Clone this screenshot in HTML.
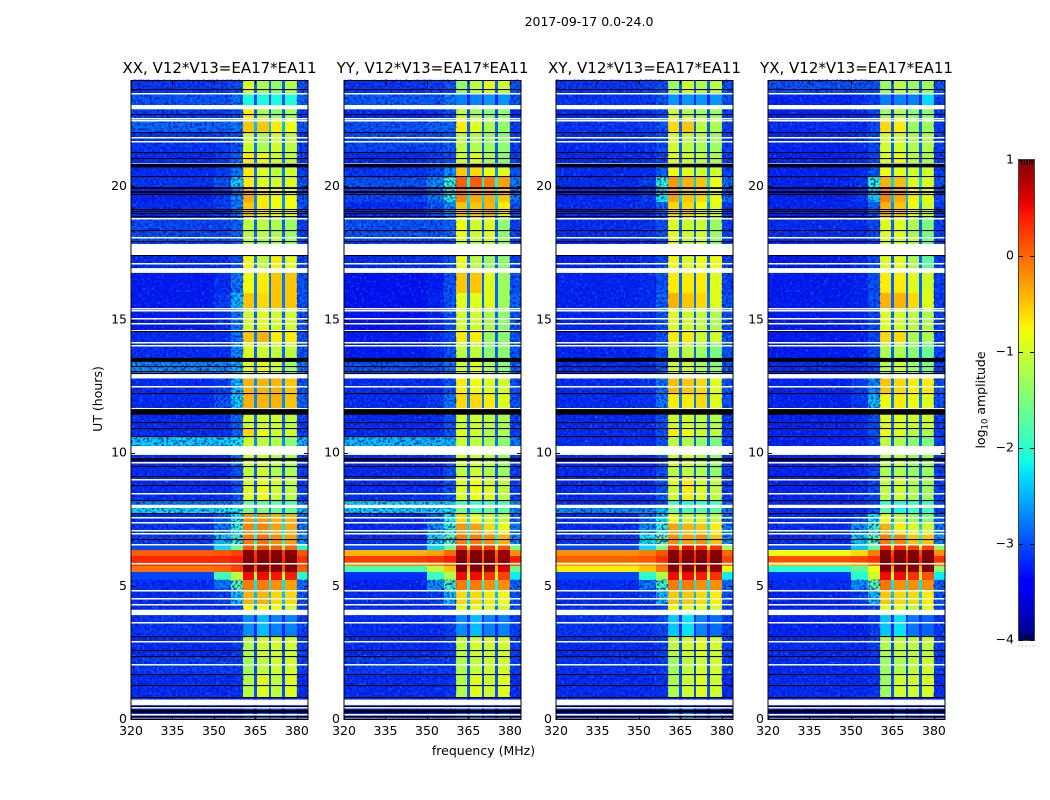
<!DOCTYPE html>
<html>
<head>
<meta charset="utf-8">
<title>2017-09-17 0.0-24.0</title>
<style>
html,body{margin:0;padding:0;background:#fff;width:1050px;height:800px;overflow:hidden}
svg{display:block}
text{font-family:"DejaVu Sans","Liberation Sans",sans-serif;fill:#000}
</style>
</head>
<body>
<svg id="figure" width="1050" height="800" viewBox="0 0 1050 800" xmlns="http://www.w3.org/2000/svg">
  <defs>
    <filter id="speckleLight" x="0" y="0" width="100%" height="100%" color-interpolation-filters="sRGB">
      <feTurbulence type="fractalNoise" baseFrequency="0.42" numOctaves="1" seed="4"/>
      <feColorMatrix type="matrix" values="0 0 0 0 0  0 0 0 0 0.72  0 0 0 0 1  3.4 0 0 0 -1.95"/>
    </filter>
    <filter id="speckleDark" x="0" y="0" width="100%" height="100%" color-interpolation-filters="sRGB">
      <feTurbulence type="fractalNoise" baseFrequency="0.42" numOctaves="1" seed="11"/>
      <feColorMatrix type="matrix" values="0 0 0 0 0  0 0 0 0 0.05  0 0 0 0 0.68  0 4 0 0 -1.75"/>
    </filter>
  </defs>
  <text x="589" y="26" font-size="12.5" text-anchor="middle">2017-09-17 0.0-24.0</text>
  <text x="483.5" y="755" font-size="12.5" text-anchor="middle">frequency (MHz)</text>
  <text x="0" y="0" font-size="12.5" text-anchor="middle" transform="translate(102,399) rotate(-90)">UT (hours)</text>
  <text x="0" y="0" font-size="12.5" text-anchor="middle" transform="translate(985,400) rotate(-90)">log<tspan font-size="8.5" dy="2.5">10</tspan><tspan dy="-2.5"> amplitude</tspan></text>
  <g id="panels"></g>
  <g id="colorbar"></g>
</svg>
<script>
// Axis data
const panelTitles = ["XX, V12*V13=EA17*EA11", "YY, V12*V13=EA17*EA11", "XY, V12*V13=EA17*EA11", "YX, V12*V13=EA17*EA11"];
const freqTicks = [320, 335, 350, 365, 380];
const utTicks = [0, 5, 10, 15, 20];
const colorbarTicks = [1, 0, -1, -2, -3, -4];
const colorbarTickLabels = ["1", "0", "\u22121", "\u22122", "\u22123", "\u22124"];

// Frequency bin edges (MHz): wide background, taper, then four sub-bands split by gaps
const freqEdges = [320, 350, 356, 360.6, 364.6, 365.6, 369.8, 370.8, 374.7, 375.7, 380, 384];
// Which level in a row feeds each frequency bin
// row = [background, mid, taper, s1, s2, s3, s4, gap, right]
const freqBinSource = [0, 1, 2, 3, 7, 4, 7, 5, 7, 6, 8];
const gapColumn = 7;
const gapShift = -0.45;
// Faint cells read slightly low against the speckle texture drawn over them
const faintThreshold = -2.5;
const faintShift = -0.14;

// Time bin edges (UT hours), top to bottom
const utEdges = [24.0,23.50,23.05,22.56,22.03,21.30,20.85,20.40,19.97,19.40,18.85,18.09,17.42,16.93,16.0,15.43,14.60,14.15,13.56,12.97,12.26,11.43,10.93,10.64,10.22,9.49,9.12,8.78,8.24,7.93,7.75,7.39,6.98,6.57,6.36,6.13,5.90,5.75,5.53,5.23,4.86,4.34,3.91,3.13,2.36,1.69,0.83,0.49,0];

// log10 amplitude, one row per time bin
const levelsXX = [
[-2.95,-2.9,-2.8,-0.95,-1.2,-1.4,-1.2,-2.3,-2.8],
[-2.8,-2.8,-2.6,-2.1,-2.1,-2.1,-2.1,-2.4,-2.7],
[-2.9,-2.9,-2.8,-0.7,-1.2,-1.4,-1.3,-2.3,-2.9],
[-2.7,-2.7,-2.6,-0.5,-0.5,-0.7,-0.8,-2.0,-2.8],
[-2.95,-2.9,-2.8,-1.0,-1.2,-1.0,-1.1,-2.2,-2.9],
[-3.0,-2.9,-2.7,-0.7,-0.8,-1.0,-1.1,-2.2,-2.9],
[-3.0,-2.9,-2.6,-0.7,-0.9,-1.1,-1.0,-2.2,-2.9],
[-2.95,-2.8,-2.3,-0.7,-0.9,-1.0,-0.9,-2.2,-2.8],
[-3.05,-2.9,-2.5,-0.35,-0.7,-0.8,-0.8,-2.1,-2.8],
[-3.0,-2.9,-2.6,-0.5,-0.7,-0.8,-0.8,-2.1,-2.8],
[-2.85,-2.85,-2.7,-1.1,-1.1,-1.2,-1.3,-2.3,-2.9],
[-2.8,-2.8,-2.7,-1.1,-1.3,-1.1,-1.3,-2.3,-2.9],
[-3.0,-3.0,-2.8,-0.8,-1.1,-0.7,-0.9,-2.2,-2.9],
[-3.1,-3.0,-2.6,-0.8,-0.7,-0.5,-0.5,-2.2,-2.8],
[-3.1,-2.9,-2.4,-0.5,-0.6,-0.5,-0.5,-2.2,-2.8],
[-3.1,-3.0,-2.6,-1.0,-0.9,-1.0,-1.0,-2.3,-2.8],
[-3.0,-3.0,-2.6,-0.5,-0.4,-0.7,-0.7,-2.2,-2.8],
[-3.0,-3.0,-2.5,-0.9,-1.0,-1.1,-1.1,-2.3,-2.8],
[-2.5,-2.5,-2.4,-0.9,-0.8,-1.0,-1.3,-2.2,-2.6],
[-3.0,-2.9,-2.4,-0.4,-0.4,-0.4,-0.5,-2.1,-2.8],
[-3.0,-2.8,-2.3,-0.4,-0.4,-0.4,-0.5,-2.1,-2.7],
[-3.0,-3.0,-2.7,-1.0,-1.0,-1.0,-1.1,-2.3,-2.9],
[-3.0,-3.0,-2.7,-0.6,-0.8,-1.0,-1.0,-2.2,-2.9],
[-2.3,-2.3,-2.2,-1.0,-1.1,-1.2,-1.4,-2.1,-2.4],
[-3.0,-3.0,-2.6,-1.0,-1.0,-1.1,-1.2,-2.3,-2.9],
[-3.0,-3.0,-2.8,-1.1,-1.0,-1.2,-1.2,-2.3,-2.9],
[-3.0,-3.0,-2.8,-1.0,-0.9,-1.0,-1.1,-2.3,-2.9],
[-3.0,-3.0,-2.8,-0.9,-0.8,-1.0,-1.1,-2.3,-2.9],
[-2.6,-2.6,-2.5,-1.6,-1.6,-1.7,-1.7,-2.2,-2.7],
[-2.25,-2.2,-2.1,-1.5,-1.5,-1.6,-1.6,-2.1,-2.4],
[-3.0,-2.7,-2.1,-0.25,-0.25,-0.4,-0.4,-1.9,-2.7],
[-2.95,-2.6,-2.0,-0.15,-0.15,-0.3,-0.35,-1.8,-2.6],
[-2.9,-2.4,-1.9,-0.1,-0.05,-0.2,-0.3,-1.6,-2.5],
[-2.9,-2.3,-1.6,0.1,0.15,0.05,0.0,-1.0,-2.0],
[0.05,0.1,0.2,1,1,1,1,0.7,0.1],
[0.35,0.35,0.4,1,1,1,1,0.8,0.3],
[0.25,0.25,0.35,1,1,1,1,0.7,0.2],
[-0.05,0.0,0.2,1,1,1,1,0.5,0.05],
[-2.9,-1.9,-1.1,0.5,0.5,0.45,0.4,-0.8,-2.0],
[-3.0,-2.6,-1.7,-0.1,-0.1,-0.2,-0.3,-1.8,-2.7],
[-3.0,-2.9,-2.4,-0.4,-0.4,-0.6,-0.6,-2.0,-2.8],
[-3.0,-3.0,-2.9,-0.8,-0.8,-0.8,-1.0,-2.2,-2.9],
[-2.95,-2.95,-2.9,-2.55,-2.45,-2.6,-2.6,-2.6,-2.9],
[-3.0,-3.0,-2.9,-1.2,-1.0,-1.0,-1.0,-2.4,-2.9],
[-2.9,-2.9,-2.9,-1.3,-1.1,-1.0,-1.0,-2.4,-2.9],
[-3.0,-3.0,-2.95,-1.15,-0.9,-1.1,-0.9,-2.4,-3.0],
[-3.0,-3.0,-3.0,-3.0,-3.0,-3.0,-3.0,-3.0,-3.0],
[-3.0,-3.0,-3.0,-2.8,-2.7,-2.8,-2.8,-3.0,-3.0]
];
const levelsYY = [
[-2.95,-2.9,-2.8,-1.4,-1.1,-0.85,-1.0,-2.3,-2.8],
[-2.75,-2.8,-2.6,-2.6,-2.6,-2.5,-2.5,-2.6,-2.8],
[-3.0,-2.95,-2.8,-1.1,-1.3,-1.4,-1.4,-2.4,-3.0],
[-2.8,-2.7,-2.7,-0.7,-0.9,-1.2,-1.35,-2.3,-2.9],
[-2.85,-2.85,-2.75,-1.1,-1.2,-1.3,-1.4,-2.3,-2.9],
[-3.0,-2.9,-2.8,-1.0,-0.9,-1.2,-1.4,-2.3,-2.9],
[-2.95,-2.85,-2.5,-0.5,-0.6,-0.8,-0.9,-2.1,-2.8],
[-2.8,-2.5,-1.9,0.05,0.05,-0.1,-0.3,-1.7,-2.6],
[-2.85,-2.6,-2.0,-0.15,-0.35,-0.35,-0.5,-1.8,-2.6],
[-3.0,-2.8,-2.5,-0.5,-0.5,-0.4,-0.7,-2.0,-2.8],
[-2.8,-2.8,-2.7,-0.8,-1.0,-0.9,-1.4,-2.3,-2.9],
[-2.85,-2.85,-2.8,-1.0,-1.1,-1.0,-1.3,-2.3,-2.9],
[-3.0,-3.0,-2.8,-0.8,-1.1,-1.3,-1.4,-2.3,-2.9],
[-3.15,-3.1,-2.8,-0.5,-0.5,-0.9,-1.3,-2.3,-2.8],
[-3.15,-3.05,-2.8,-0.9,-0.9,-0.9,-1.3,-2.3,-2.7],
[-3.15,-3.05,-2.8,-1.0,-1.0,-1.2,-1.4,-2.3,-2.8],
[-3.1,-3.0,-2.8,-0.7,-0.7,-1.3,-1.4,-2.3,-2.8],
[-3.1,-3.0,-2.8,-1.1,-1.1,-1.4,-1.4,-2.3,-2.8],
[-2.8,-2.8,-2.6,-1.0,-0.9,-1.2,-1.4,-2.3,-2.7],
[-3.0,-3.0,-2.8,-0.7,-0.8,-0.9,-1.0,-2.2,-2.8],
[-3.0,-2.9,-2.6,-0.6,-0.6,-0.7,-0.9,-2.2,-2.8],
[-3.0,-3.0,-2.8,-1.0,-1.0,-1.1,-1.2,-2.3,-2.9],
[-3.0,-3.0,-2.8,-0.9,-1.0,-1.2,-1.2,-2.3,-2.9],
[-2.4,-2.4,-2.4,-1.0,-1.1,-1.2,-1.4,-2.2,-2.6],
[-3.0,-3.0,-2.8,-1.0,-1.0,-1.1,-1.3,-2.3,-2.9],
[-3.0,-3.0,-2.8,-1.1,-1.0,-1.2,-1.3,-2.3,-2.9],
[-3.0,-3.0,-2.8,-0.9,-0.8,-1.0,-1.1,-2.3,-2.9],
[-3.0,-3.0,-2.8,-0.9,-0.8,-0.9,-1.1,-2.3,-2.9],
[-2.3,-2.3,-2.3,-1.8,-1.9,-1.8,-1.8,-2.2,-2.5],
[-2.3,-2.3,-2.2,-1.5,-1.8,-1.6,-1.7,-2.2,-2.5],
[-3.0,-2.7,-2.1,-0.6,-0.8,-1.0,-1.1,-1.9,-2.7],
[-3.0,-2.5,-2.0,-0.25,-0.3,-0.6,-0.8,-1.8,-2.6],
[-3.0,-2.3,-1.8,-0.1,-0.1,-0.2,-0.4,-1.7,-2.5],
[-2.9,-2.3,-1.6,0.3,0.3,0.25,0.1,-0.6,-1.5],
[-0.4,-0.3,0.0,1,1,1,0.9,0.5,-0.2],
[0.25,0.3,0.4,1,1,1,0.9,0.6,0.4],
[-0.2,-0.1,0.1,1,1,1,0.9,0.5,0.1],
[-1.8,-1.1,-0.5,1,1,1,0.6,0.0,-1.6],
[-3.0,-1.9,-1.2,0.5,0.5,0.3,0.2,-0.6,-2.2],
[-3.05,-2.5,-1.8,-0.1,-0.1,-0.2,-0.2,-1.7,-2.7],
[-3.0,-2.9,-2.4,-0.6,-0.6,-0.7,-0.8,-2.0,-2.8],
[-3.0,-3.0,-2.9,-0.9,-0.9,-0.9,-1.0,-2.2,-2.9],
[-3.0,-3.0,-2.9,-2.55,-2.45,-2.6,-2.6,-2.6,-2.9],
[-3.0,-3.0,-2.9,-1.1,-1.0,-1.0,-1.0,-2.4,-2.9],
[-2.9,-2.9,-2.9,-1.2,-1.1,-1.0,-1.0,-2.4,-2.9],
[-3.0,-3.0,-2.95,-1.15,-0.9,-1.0,-0.9,-2.4,-3.0],
[-3.0,-3.0,-3.0,-3.0,-3.0,-3.0,-3.0,-3.0,-3.0],
[-3.0,-3.0,-3.0,-2.8,-2.7,-2.8,-2.8,-3.0,-3.0]
];
const levelsXY = [
[-2.95,-2.9,-2.8,-1.3,-1.0,-1.2,-1.1,-2.3,-2.8],
[-2.95,-2.9,-2.8,-2.5,-2.5,-2.5,-2.5,-2.6,-2.8],
[-3.0,-2.95,-2.85,-1.0,-1.2,-1.3,-1.3,-2.4,-2.9],
[-2.95,-2.9,-2.8,-0.6,-0.5,-1.1,-1.2,-2.3,-2.9],
[-3.0,-2.95,-2.85,-1.0,-1.1,-1.2,-1.3,-2.3,-2.9],
[-3.0,-3.0,-2.85,-0.9,-1.0,-1.1,-1.2,-2.3,-2.9],
[-3.0,-3.0,-2.7,-0.8,-0.9,-1.0,-1.0,-2.2,-2.9],
[-3.0,-2.9,-2.0,-0.25,-0.4,-0.5,-0.8,-1.9,-2.7],
[-3.0,-2.9,-2.2,-0.3,-0.5,-0.6,-0.8,-1.9,-2.7],
[-3.0,-3.0,-2.7,-0.6,-0.6,-0.8,-0.9,-2.1,-2.9],
[-3.0,-2.95,-2.8,-0.9,-1.0,-1.0,-1.3,-2.3,-2.9],
[-3.0,-2.95,-2.85,-0.9,-1.1,-1.0,-1.4,-2.3,-2.9],
[-3.05,-3.0,-2.85,-0.8,-0.9,-0.8,-0.8,-2.3,-2.9],
[-3.05,-3.0,-2.8,-0.7,-0.7,-0.7,-0.9,-2.3,-2.9],
[-3.05,-3.0,-2.7,-0.4,-0.5,-0.6,-0.9,-2.2,-2.8],
[-3.05,-3.0,-2.8,-0.9,-1.0,-1.1,-1.2,-2.3,-2.8],
[-3.05,-3.0,-2.8,-0.7,-0.7,-1.0,-1.0,-2.3,-2.8],
[-3.05,-3.0,-2.8,-1.1,-1.1,-1.3,-1.5,-2.3,-2.8],
[-3.0,-3.0,-2.8,-1.0,-1.0,-1.2,-1.4,-2.3,-2.8],
[-3.0,-2.95,-2.6,-0.45,-0.5,-0.6,-0.9,-2.2,-2.8],
[-3.0,-2.95,-2.6,-0.7,-0.7,-0.6,-0.9,-2.2,-2.8],
[-3.0,-3.0,-2.8,-1.0,-1.0,-1.1,-1.2,-2.3,-2.9],
[-3.0,-3.0,-2.8,-0.7,-0.8,-1.0,-1.1,-2.3,-2.9],
[-3.0,-3.0,-2.8,-1.1,-1.2,-1.4,-1.5,-2.3,-2.9],
[-3.0,-3.0,-2.8,-1.0,-1.0,-1.2,-1.3,-2.3,-2.9],
[-3.0,-3.0,-2.8,-1.1,-1.1,-1.2,-1.4,-2.3,-2.9],
[-3.0,-3.0,-2.8,-0.9,-0.7,-1.0,-1.1,-2.3,-2.9],
[-3.0,-3.0,-2.8,-1.0,-0.7,-0.9,-1.1,-2.3,-2.9],
[-3.0,-3.0,-2.8,-1.8,-2.0,-1.9,-1.8,-2.3,-2.8],
[-2.5,-2.5,-2.4,-1.5,-1.8,-1.7,-1.7,-2.2,-2.6],
[-3.0,-2.7,-2.2,-0.8,-1.0,-1.0,-1.1,-2.0,-2.7],
[-3.0,-2.5,-2.0,-0.3,-0.4,-0.5,-0.7,-1.8,-2.6],
[-2.95,-2.2,-1.7,-0.2,-0.3,-0.2,-0.5,-1.6,-2.5],
[-2.9,-2.3,-1.5,0.3,0.5,0.4,0.3,-0.4,-1.2],
[-0.2,-0.1,0.1,1,1,1,1,0.7,0.0],
[0.05,0.1,0.3,1,1,1,1,0.8,0.2],
[-0.3,-0.2,0.1,1,1,1,1,0.6,0.0],
[-0.7,-0.5,-0.1,1,1,1,0.9,0.1,-0.8],
[-2.9,-2.0,-1.2,0.5,0.5,0.4,0.3,-0.7,-2.2],
[-3.0,-2.6,-1.8,-0.1,-0.1,-0.2,-0.2,-1.8,-2.7],
[-3.0,-2.9,-2.4,-0.5,-0.5,-0.6,-0.7,-2.0,-2.8],
[-3.0,-3.0,-2.9,-0.8,-0.9,-0.9,-1.0,-2.2,-2.9],
[-2.95,-2.95,-2.85,-2.4,-2.25,-2.6,-2.7,-2.6,-2.9],
[-3.0,-3.0,-2.9,-1.1,-1.0,-0.9,-1.0,-2.4,-2.9],
[-2.95,-2.95,-2.9,-1.3,-1.1,-1.0,-1.0,-2.4,-2.9],
[-3.0,-3.0,-2.95,-1.2,-1.0,-0.9,-1.0,-2.4,-3.0],
[-3.0,-3.0,-3.0,-3.0,-3.0,-3.0,-3.0,-3.0,-3.0],
[-3.0,-3.0,-3.0,-2.7,-2.6,-2.8,-2.8,-3.0,-3.0]
];
const levelsYX = [
[-2.8,-2.8,-2.8,-1.3,-1.1,-1.3,-1.3,-2.3,-2.8],
[-3.05,-3.0,-2.9,-2.6,-2.6,-2.6,-2.3,-2.6,-2.9],
[-3.05,-3.0,-2.85,-1.3,-1.2,-1.4,-1.4,-2.4,-2.9],
[-3.0,-3.0,-2.85,-0.6,-0.7,-1.3,-1.3,-2.3,-2.9],
[-3.05,-3.0,-2.85,-1.0,-1.0,-1.2,-1.2,-2.3,-2.9],
[-3.05,-3.0,-2.85,-0.9,-0.85,-1.1,-1.2,-2.3,-2.9],
[-3.05,-3.0,-2.8,-0.8,-0.9,-1.0,-1.0,-2.2,-2.9],
[-3.05,-2.95,-2.0,-0.4,-0.45,-0.85,-0.9,-1.9,-2.8],
[-3.05,-2.95,-2.3,-0.15,-0.35,-0.7,-0.85,-2.0,-2.8],
[-3.05,-3.0,-2.7,-0.4,-0.5,-0.8,-1.0,-2.1,-2.9],
[-3.0,-3.0,-2.85,-0.9,-0.9,-1.2,-1.5,-2.3,-2.9],
[-3.0,-3.0,-2.85,-1.0,-1.0,-1.1,-1.6,-2.3,-2.9],
[-3.1,-3.0,-2.85,-0.9,-0.9,-1.2,-1.7,-2.3,-2.9],
[-3.1,-3.05,-2.8,-0.7,-0.7,-0.9,-1.0,-2.3,-2.9],
[-3.1,-3.05,-2.8,-0.4,-0.4,-0.6,-0.9,-2.3,-2.9],
[-3.1,-3.05,-2.85,-0.9,-1.0,-1.1,-1.2,-2.3,-2.9],
[-3.1,-3.05,-2.85,-0.6,-0.6,-1.2,-1.2,-2.3,-2.9],
[-3.1,-3.05,-2.85,-1.2,-1.2,-1.4,-1.6,-2.3,-2.9],
[-3.0,-3.0,-2.85,-1.1,-1.0,-1.3,-1.5,-2.3,-2.9],
[-3.05,-2.9,-2.5,-0.5,-0.6,-0.7,-0.7,-2.2,-2.8],
[-3.05,-2.9,-2.4,-0.8,-0.7,-0.8,-0.9,-2.2,-2.8],
[-3.05,-3.0,-2.8,-0.9,-0.9,-1.0,-1.0,-2.3,-2.9],
[-3.05,-3.0,-2.8,-0.8,-0.9,-1.1,-1.2,-2.3,-2.9],
[-3.05,-3.0,-2.85,-1.1,-1.2,-1.4,-1.5,-2.3,-2.9],
[-3.05,-3.0,-2.85,-1.1,-1.1,-1.3,-1.3,-2.3,-2.9],
[-3.05,-3.0,-2.85,-1.2,-1.2,-1.3,-1.3,-2.3,-2.9],
[-3.05,-3.0,-2.85,-1.1,-1.0,-1.2,-1.3,-2.3,-2.9],
[-3.05,-3.0,-2.85,-1.1,-1.0,-1.2,-1.3,-2.3,-2.9],
[-3.05,-3.0,-2.85,-1.9,-2.0,-1.9,-1.9,-2.4,-2.9],
[-3.0,-3.0,-2.8,-1.7,-2.1,-1.9,-1.9,-2.4,-2.9],
[-3.0,-2.8,-2.2,-0.8,-1.1,-1.3,-1.5,-2.1,-2.7],
[-3.0,-2.5,-1.9,-0.4,-0.7,-0.9,-1.0,-1.9,-2.6],
[-3.0,-2.3,-1.7,-0.1,-0.15,-0.5,-0.5,-1.7,-2.5],
[-2.9,-2.4,-1.7,0.35,0.35,0.25,0.2,-0.5,-1.4],
[-0.8,-0.6,-0.1,1,1,1,1,0.6,-0.2],
[0.15,0.2,0.3,1,1,1,1,0.8,0.3],
[-0.4,-0.3,0.0,1,1,1,1,0.6,0.0],
[-2.0,-1.7,-0.8,1,1,1,1,0.1,-1.4],
[-3.0,-2.0,-1.0,0.5,0.5,0.3,0.1,-0.7,-2.2],
[-3.0,-2.5,-1.7,-0.05,-0.2,-0.2,-0.2,-1.8,-2.7],
[-3.05,-2.9,-2.4,-0.5,-0.6,-0.6,-0.7,-2.0,-2.8],
[-3.05,-3.0,-2.9,-0.9,-0.9,-1.1,-0.9,-2.2,-2.9],
[-3.05,-3.05,-2.9,-2.4,-2.25,-2.65,-2.75,-2.6,-2.95],
[-3.0,-3.0,-2.9,-1.2,-1.1,-1.1,-1.1,-2.4,-2.9],
[-3.0,-3.0,-2.95,-1.3,-1.2,-1.1,-1.0,-2.4,-2.9],
[-3.0,-3.0,-2.95,-1.3,-1.0,-1.0,-0.95,-2.4,-3.0],
[-3.05,-3.05,-3.05,-3.05,-3.05,-3.05,-3.05,-3.05,-3.05],
[-3.05,-3.05,-3.05,-2.9,-2.8,-2.9,-2.9,-3.05,-3.05]
];
const panelLevels = [levelsXX, levelsYY, levelsXY, levelsYX];

// Flagged time ranges, shared by all panels (UT hours)
const whiteFlagLines = [23.49,22.55,22.48,21.86,21.71,20.89,18.80,18.09,17.85,17.11,15.43,15.35,15.05,14.86,14.60,14.15,14.03,12.50,11.67,10.27,9.64,9.03,8.50,7.58,7.39,7.11,6.98,6.57,5.86,4.86,4.55,4.34,3.64,2.95,2.06,0.45,0.20,0.06];
const whiteFlagBlocks = [[23.05,22.89],[17.80,17.42],[16.93,16.75],[12.97,12.79],[10.22,9.92],[8.05,7.93],[4.11,3.91],[0.74,0.53]];
const blackFlagLines = [23.66,22.72,22.03,21.30,21.07,20.40,19.84,19.78,19.71,19.16,19.08,19.01,18.90,18.37,17.94,17.41,14.57,13.26,13.08,13.01,12.26,11.16,10.93,10.64,9.49,9.12,8.78,8.24,7.75,6.75,3.13,2.59,2.36,1.69,1.30,0.83,0.49,0.12];
const blackFlagBlocks = [[20.85,20.71],[19.97,19.90],[13.56,13.41],[11.64,11.43],[9.80,9.70],[0.36,0.24],[0.03,0]];

// UT ranges that carry the fine-grain background texture
const speckleHourRanges = [[24, 6.57], [5.23, 0]];

// Colour scale domain
const colorMin = -4;
const colorMax = 1;
const colorbarSteps = 240;

// Layout
const panelLefts = [131, 344, 556, 768];
const panelWidth = 177;
const plotBottom = 719.3;
const pxPerHour = 26.65;
const freqMin = 320;
const freqMax = 384;
const SVGNS = "http://www.w3.org/2000/svg";

function yScale(h) { return plotBottom - h * pxPerHour; }
function xScale(left, f) { return left + (f - freqMin) / (freqMax - freqMin) * panelWidth; }
function colorPos(v) { return Math.max(0, Math.min(1, (v - colorMin) / (colorMax - colorMin))); }
function colorbarY(v) { return 160 + (colorMax - v) / (colorMax - colorMin) * 480; }

function ramp(stops, t) {
  for (let i = 1; i < stops.length; i++) {
    if (t <= stops[i][0]) {
      const a = stops[i - 1], b = stops[i];
      return a[1] + (b[1] - a[1]) * (t - a[0]) / (b[0] - a[0]);
    }
  }
  return stops[stops.length - 1][1];
}
const jetR = [[0,0],[0.35,0],[0.66,1],[0.89,1],[1,0.5]];
const jetG = [[0,0],[0.125,0],[0.375,1],[0.64,1],[0.91,0],[1,0]];
const jetB = [[0,0.5],[0.11,1],[0.34,1],[0.65,0],[1,0]];
function jet(v) {
  const t = colorPos(v);
  const r = Math.round(255 * ramp(jetR, t));
  const g = Math.round(255 * ramp(jetG, t));
  const b = Math.round(255 * ramp(jetB, t));
  return "rgb(" + r + "," + g + "," + b + ")";
}
function cellValue(v) { return v <= faintThreshold ? v + faintShift : v; }

function svgEl(tag, parent) {
  const el = document.createElementNS(SVGNS, tag);
  parent.appendChild(el);
  return el;
}
function setAttrs(el, attrs) {
  for (const k in attrs) el.setAttribute(k, attrs[k]);
}

const panelsRoot = document.getElementById("panels");

panelTitles.forEach(function (title, p) {
  const left = panelLefts[p];
  const right = left + panelWidth;
  const top = yScale(24);
  const g = svgEl("g", panelsRoot);
  
  

  // Heatmap cells
  const cells = svgEl("g", g);
  
  
  cells.setAttribute('shape-rendering', 'crispEdges');
  const levels = panelLevels[p];
  levels.forEach(function (row, r) {
    const y0 = Math.round(yScale(utEdges[r]));
    const y1 = Math.round(yScale(utEdges[r + 1]));
    freqBinSource.forEach(function (src, c) {
      const x0 = Math.round(xScale(left, freqEdges[c]));
      const x1 = Math.round(xScale(left, freqEdges[c + 1]));
      const value = src === gapColumn ? row[src] + gapShift : row[src];
      const cell = svgEl("rect", cells);
      
      
      setAttrs(cell, { x: x0, y: y0, width: x1 - x0, height: y1 - y0, fill: jet(cellValue(value)) });
    });
  });

  // Fine-grain visual texture over the background regions (styling only)
  [[freqMin, freqEdges[3]], [freqEdges[10], freqMax]].forEach(function (range) {
    speckleHourRanges.forEach(function (hours) {
      ["speckleLight", "speckleDark"].forEach(function (f) {
        const tex = svgEl("rect", g);
        
        
        const tx = xScale(left, range[0]);
        setAttrs(tex, { x: tx, y: yScale(hours[0]), width: xScale(left, range[1]) - tx, height: (hours[0] - hours[1]) * pxPerHour, filter: "url(#" + f + ")", opacity: 0.75 });
      });
    });
  });

  // Flagged rows
  function flagBlock(hi, lo, colour) {
    const b = svgEl("rect", g);
    
    
    setAttrs(b, { x: left, y: yScale(hi), width: panelWidth, height: (hi - lo) * pxPerHour, fill: colour });
  }
  function flagLine(h, colour, thickness) {
    const b = svgEl("rect", g);
    
    
    setAttrs(b, { x: left, y: Math.round(yScale(h)), width: panelWidth, height: thickness, fill: colour });
  }
  whiteFlagBlocks.forEach(function (b) { flagBlock(b[0], b[1], "#fff"); });
  whiteFlagLines.forEach(function (h) { flagLine(h, "#fff", 1.5); });
  blackFlagBlocks.forEach(function (b) { flagBlock(b[0], b[1], "#000"); });
  blackFlagLines.forEach(function (h) { flagLine(h, "#000", 1.1); });

  // Frame
  const frame = svgEl("rect", g);
  
  
  setAttrs(frame, { x: left, y: Math.round(top) + 0.5, width: panelWidth, height: Math.round(plotBottom) - Math.round(top), fill: "none", stroke: "#000", "stroke-width": 1 });

  // X ticks and labels
  freqTicks.forEach(function (f) {
    const x = Math.round(xScale(left, f)) + 0.5;
    [[719.5, 715.5], [80.5, 84.5]].forEach(function (pair) {
      const t = svgEl("line", g);
      
      
      setAttrs(t, { x1: x, x2: x, y1: pair[0], y2: pair[1], stroke: "#000", "stroke-width": 1 });
    });
    const label = svgEl("text", g);
    
    
    setAttrs(label, { x: xScale(left, f), y: 735, "font-size": 12.5, "text-anchor": "middle" });
    label.textContent = f;
  });

  // Y ticks and labels
  utTicks.forEach(function (h) {
    const y = Math.round(yScale(h)) + 0.5;
    [[left, left + 4], [right, right - 4]].forEach(function (pair) {
      const t = svgEl("line", g);
      
      
      setAttrs(t, { x1: pair[0], x2: pair[1], y1: y, y2: y, stroke: "#000", "stroke-width": 1 });
    });
    const label = svgEl("text", g);
    
    
    setAttrs(label, { x: left - 4, y: yScale(h) + 3.9, "font-size": 12.5, "text-anchor": "end" });
    label.textContent = h;
  });

  // Title
  const ttl = svgEl("text", g);
  
  
  setAttrs(ttl, { x: left + panelWidth / 2, y: 73, "font-size": 15, "text-anchor": "middle" });
  ttl.textContent = title;
});

// Colorbar
const cbRoot = document.getElementById("colorbar");
const cbLeft = 1019;
const cbRight = 1034;
const cbCells = svgEl("g", cbRoot);


cbCells.setAttribute('shape-rendering', 'crispEdges');
for (let i = 0; i < colorbarSteps; i++) {
  const vTop = colorMax - (colorMax - colorMin) * i / colorbarSteps;
  const vBottom = colorMax - (colorMax - colorMin) * (i + 1) / colorbarSteps;
  const seg = svgEl("rect", cbCells);
  
  
  setAttrs(seg, { x: cbLeft, y: colorbarY(vTop), width: cbRight - cbLeft, height: colorbarY(vBottom) - colorbarY(vTop), fill: jet((vTop + vBottom) / 2) });
}
const cbFrame = svgEl("rect", cbRoot);


setAttrs(cbFrame, { x: cbLeft - 0.5, y: 159.5, width: cbRight - cbLeft + 1, height: 481, fill: "none", stroke: "#000", "stroke-width": 1, "stroke-opacity": 0.75 });

colorbarTicks.forEach(function (v, i) {
  const y = Math.round(colorbarY(v)) + 0.5;
  [[cbLeft, cbLeft + 4], [cbRight, cbRight - 4]].forEach(function (pair) {
    const t = svgEl("line", cbRoot);
    
    
    setAttrs(t, { x1: pair[0], x2: pair[1], y1: y, y2: y, stroke: "#000", "stroke-width": 1 });
  });
  const label = svgEl("text", cbRoot);
  
  
  setAttrs(label, { x: 1014, y: colorbarY(v) + 3.5, "font-size": 12.5, "text-anchor": "end" });
  label.textContent = colorbarTickLabels[i];
});

// Small edge marks on the colorbar's top and bottom
[1021.5, 1024.5, 1027, 1029.5, 1032].forEach(function (x) {
  [[160, 165], [640, 635]].forEach(function (pair) {
    const t = svgEl("line", cbRoot);
    
    
    setAttrs(t, { x1: x, x2: x, y1: pair[0], y2: pair[1], stroke: "#000", "stroke-width": 0.8 });
  });
});
[1017.5, 1021.5, 1025.5, 1029.5, 1033.5].forEach(function (x) {
  const d = svgEl("rect", cbRoot);
  
  
  setAttrs(d, { x: x, y: 645.5, width: 1, height: 1, fill: "#888" });
});
</script>
</body>
</html>
